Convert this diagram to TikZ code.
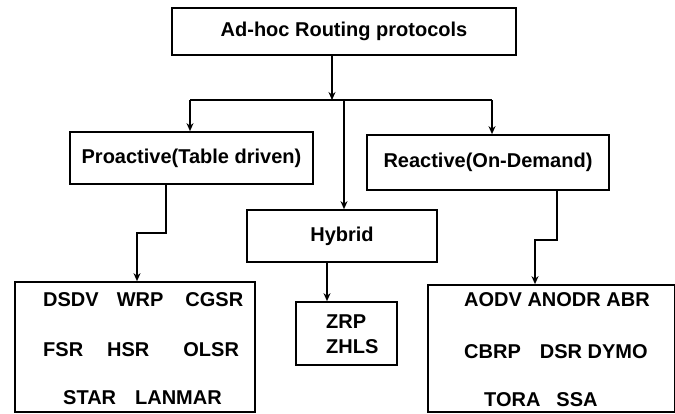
\documentclass[tikz,border=0pt]{standalone}
\usepackage{fontspec}
\setmainfont{Liberation Sans}
\usepackage{tikz}
\usetikzlibrary{arrows.meta,calc}

\tikzset{
  protobox/.style={draw,line width=1.7pt,inner sep=0pt,font=\fontsize{20}{22}\selectfont\bfseries},
  listtext/.style={inner sep=0pt,anchor=west,font=\fontsize{20}{22}\selectfont\bfseries},
  link/.style={line width=1.7pt},
  linkarrow/.style={line width=1.7pt,-{Stealth[length=8pt,width=7pt]}}
}

\begin{document}
\begin{tikzpicture}[x=1pt,y=-1pt]
    \useasboundingbox (0,0) rectangle (675,413);
    % category boxes
    \node[protobox,minimum width=344,minimum height=47] (root) at (344,31.5) {Ad-hoc Routing protocols};
    \node[protobox,minimum width=243,minimum height=52] (proactive) at (191.5,158) {Proactive(Table driven)};
    \node[protobox,minimum width=242,minimum height=55] (reactive) at (488,162.5) {Reactive(On-Demand)};
    \node[protobox,minimum width=190,minimum height=52] (hybrid) at (342,236) {Hybrid};
    % protocol lists
    \node[protobox,minimum width=240,minimum height=130] (prolist) at (135,347) {};
    \node[protobox,minimum width=101,minimum height=63] (hyblist) at (346.5,333.5) {};
    \node[protobox,minimum width=247,minimum height=127] (realist) at (551.5,348.5) {};
    \node[listtext] (p1) at (43,300) {DSDV\hspace{18pt}WRP\hspace{22pt}CGSR};
    \node[listtext] (p2) at (43,350) {FSR\hspace{24pt}HSR\hspace{34pt}OLSR};
    \node[listtext] (p3) at (63,398) {STAR\hspace{19pt}LANMAR};
    \node[listtext] (h1) at (326,322) {ZRP};
    \node[listtext] (h2) at (326,347) {ZHLS};
    \node[listtext] (r1) at (464,300) {AODV ANODR ABR};
    \node[listtext] (r2) at (464,352) {CBRP\hspace{19pt}DSR DYMO};
    \node[listtext] (r3) at (484,400) {TORA\hspace{16pt}SSA};
    % connectors
    \coordinate (bar) at (332,100);
    \coordinate (pbar) at (190,100);
    \coordinate (hbar) at (344,100);
    \coordinate (rbar) at (492,100);
    \coordinate (pbend) at (137,233);
    \coordinate (rbend) at (535,240);
    \draw[linkarrow] (root.south -| bar) -- (bar);
    \draw[link] (pbar) -- (rbar);
    \draw[linkarrow] (pbar) -- (proactive.north -| pbar);
    \draw[linkarrow] (rbar) -- (reactive.north -| rbar);
    \draw[linkarrow] (hbar) -- (hybrid.north -| hbar);
    \draw[linkarrow] ($(proactive.south)+(-25.5,0)$) |- (pbend) -- (prolist.north -| pbend);
    \draw[linkarrow] ($(hybrid.south)+(-15,0)$) -- ($(hyblist.north)+(-19.5,0)$);
    \draw[linkarrow] ($(reactive.south)+(69,0)$) |- (rbend) -- (realist.north -| rbend);
\end{tikzpicture}
\end{document}
